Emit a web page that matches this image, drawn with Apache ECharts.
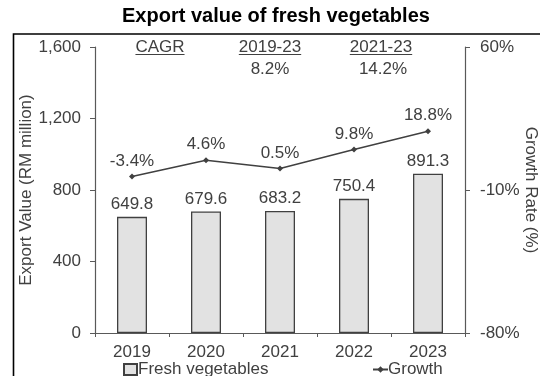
<!DOCTYPE html>
<html><head><meta charset="utf-8">
<script src="https://cdn.jsdelivr.net/npm/echarts@6/dist/echarts.min.js"></script>
<style>html,body{margin:0;padding:0;background:#fff}#c{width:540px;height:376px}</style>
</head><body><div id="c"></div>
<script>
const categories = ['2019','2020','2021','2022','2023'];
const exportValues = [649.8, 679.6, 683.2, 750.4, 891.3];
const growthRates = [-3.4, 4.6, 0.5, 9.8, 18.8];
const leftTicks = [0, 400, 800, 1200, 1600];
const rightTicks = [-80, -10, 60];
const cagrHeaders = ['CAGR', '2019-23', '2021-23'];
const cagrValues = ['', '8.2%', '14.2%'];

const F = '"Liberation Sans", Arial, sans-serif';
const FS = 17;
const TXT = '#404040';
const AX = '#595959';
const chart = echarts.init(document.getElementById('c'), null, {renderer:'canvas'});

const ctx = document.createElement('canvas').getContext('2d');
ctx.font = FS + 'px ' + F;
const headerX = [160, 270, 381];
const valueX = [160, 270, 383];
const graphics = [
  {type:'rect', shape:{x:13.5, y:34, width:600, height:400}, style:{fill:'none', stroke:'#000', lineWidth:1.6}, silent:true, z:100}
];
cagrHeaders.forEach((h,i)=>{
  const w = ctx.measureText(h).width;
  graphics.push({type:'text', x:headerX[i], y:47, style:{text:h, font:FS+'px '+F, fill:TXT, align:'center', verticalAlign:'middle'}});
  graphics.push({type:'line', shape:{x1:headerX[i]-w/2, y1:54.5, x2:headerX[i]+w/2, y2:54.5}, style:{stroke:TXT, lineWidth:1}});
  if (cagrValues[i]) graphics.push({type:'text', x:valueX[i], y:69, style:{text:cagrValues[i], font:FS+'px '+F, fill:TXT, align:'center', verticalAlign:'middle'}});
});

chart.setOption({
  animation:false,
  textStyle:{fontFamily:F},
  title:{text:'Export value of fresh vegetables', left:122, top:6, padding:0, textStyle:{fontFamily:F, fontSize:20, fontWeight:'bold', color:'#000'}},
  grid:{left:95, right:75, top:47, bottom:43, containLabel:false, outerBoundsMode:'none'},
  legend:[
    {data:[{name:'Fresh vegetables', icon:'rect'}], left:123, top:361, padding:0, itemWidth:13, itemHeight:11,
      textStyle:{fontSize:FS, color:TXT, padding:[0,0,0,-4]}},
    {data:['Growth'], left:372, top:361, padding:0, itemWidth:15, itemHeight:8,
      textStyle:{fontSize:FS, color:TXT, padding:[0,0,0,-5]}}
  ],
  xAxis:{type:'category', data:categories, boundaryGap:true,
    axisLine:{lineStyle:{color:AX, width:1.2}}, axisTick:{show:true, length:4, lineStyle:{color:AX}},
    axisLabel:{fontSize:FS, color:TXT, margin:11}},
  yAxis:[
    {type:'value', min:0, max:1600, interval:400, splitLine:{show:false},
      name:'Export Value (RM million)', nameLocation:'middle', nameGap:60, nameRotate:90, nameMoveOverlap:false,
      nameTextStyle:{fontSize:FS, color:TXT},
      axisLine:{show:true, lineStyle:{color:AX, width:1.2}}, axisTick:{show:true, length:5, lineStyle:{color:AX}},
      axisLabel:{fontSize:FS, color:TXT, margin:14, formatter:v=>leftTicks.includes(v)?v.toLocaleString('en-US'):''}},
    {type:'value', min:-80, max:60, interval:70, splitLine:{show:false},
      name:'Growth Rate (%)', nameLocation:'middle', nameGap:57, nameRotate:-90, nameMoveOverlap:false,
      nameTextStyle:{fontSize:FS, color:TXT},
      axisLine:{show:true, lineStyle:{color:AX, width:1.2}}, axisTick:{show:true, length:5, lineStyle:{color:AX}},
      axisLabel:{fontSize:FS, color:TXT, margin:15, formatter:v=>rightTicks.includes(v)?v+'%':''}}
  ],
  series:[
    {name:'Fresh vegetables', type:'bar', data:exportValues, barWidth:30, yAxisIndex:0,
      itemStyle:{color:'#e2e2e2', borderColor:'#404040', borderWidth:1.3},
      label:{show:true, position:'top', distance:4, fontSize:FS, color:TXT, formatter:p=>p.value.toFixed(1)}},
    {name:'Growth', type:'line', data:growthRates, yAxisIndex:1, symbol:'diamond', symbolSize:6,
      lineStyle:{color:'#404040', width:1.5}, itemStyle:{color:'#404040'},
      label:{show:true, position:'top', distance:4, fontSize:FS, color:TXT, formatter:p=>p.value.toFixed(1)+'%'}}
  ],
  graphic:graphics
});
</script></body></html>
